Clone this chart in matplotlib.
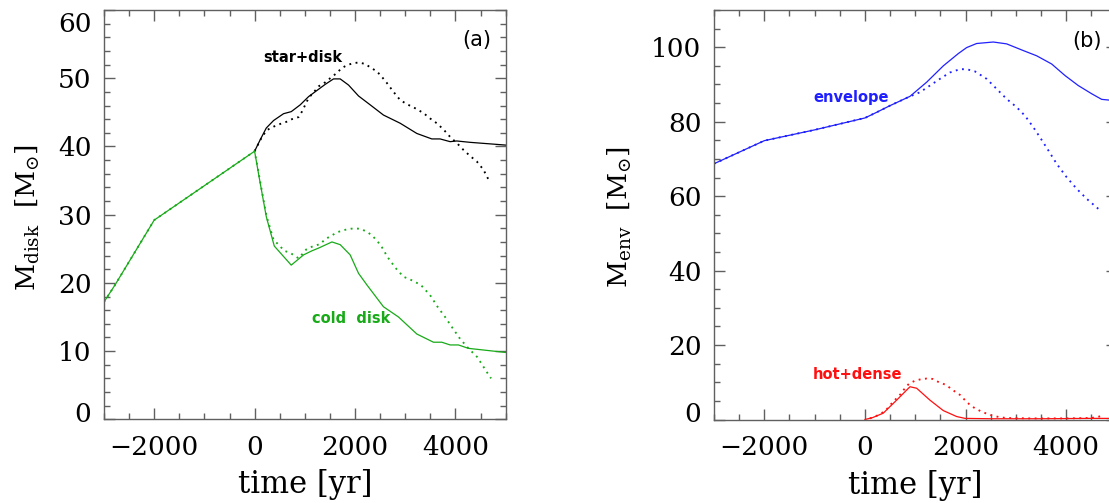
import matplotlib
matplotlib.use("Agg")
import matplotlib.pyplot as plt
from matplotlib.ticker import MultipleLocator
from matplotlib.transforms import ScaledTranslation

# ---------------- data (panel a) ----------------
cold_t = [-3000, -2780, -2000, 0, 100, 233, 392, 730, 975, 1142, 1275, 1540, 1705,
          1904, 2070, 2237, 2567, 2866, 3232, 3563, 3729, 3895, 4060, 4259, 5000]
cold_solid = [17.2, 19.7, 29.2, 39.3, 35.1, 29.7, 25.4, 22.6, 24.1, 24.7, 25.1, 26.0, 25.6,
              24.1, 21.4, 19.7, 16.5, 15.0, 12.5, 11.3, 11.3, 10.9, 10.9, 10.4, 9.8]

cold_dot_t = [-3000, -2780, -2000, 0, 100, 233, 378, 478, 591, 710, 876, 1029, 1142, 1308,
              1407, 1526, 1640, 1759, 1878, 1998, 2117, 2237, 2348, 2515, 2647, 2806,
              2965, 3098, 3311, 3496, 3644, 3795, 3960, 4093, 4259, 4438, 4637, 4710]
cold_dot = [17.2, 19.7, 29.2, 39.3, 35.3, 29.9, 26.3, 25.6, 24.7, 24.4, 23.6, 24.9, 25.3, 25.7,
            26.4, 26.9, 27.4, 27.7, 27.9, 28.0, 27.9, 27.5, 26.9, 25.5, 23.8, 22.2,
            20.9, 20.5, 19.7, 18.2, 16.5, 15.0, 13.2, 11.8, 10.4, 9.1, 6.8, 6.0]

star_t = [0, 113, 233, 378, 577, 730, 909, 1075, 1241, 1407, 1572, 1705, 1871, 2070,
          2302, 2567, 2900, 3232, 3530, 3695, 3895, 4028, 4293, 5000]
star_solid = [39.3, 41.0, 42.7, 43.8, 44.8, 45.1, 46.1, 47.3, 48.2, 49.1, 49.9, 49.9, 49.0, 47.4,
              46.1, 44.6, 43.4, 41.9, 41.1, 41.1, 40.7, 40.8, 40.6, 40.2]

star_dot_t = [0, 147, 246, 378, 511, 631, 744, 876, 943, 1009, 1075, 1174, 1274, 1407, 1506,
              1626, 1739, 1839, 1958, 2070, 2203, 2302, 2436, 2535, 2635, 2767, 2900, 3033,
              3198, 3363, 3496, 3629, 3761, 3895, 4028, 4159, 4293, 4426, 4558, 4690]
star_dot = [39.3, 41.4, 42.4, 42.9, 43.3, 43.6, 44.0, 44.3, 45.1, 46.1, 47.1, 47.9, 48.8, 49.4,
            50.0, 50.7, 51.5, 51.9, 52.2, 52.3, 52.1, 51.6, 51.0, 50.2, 49.3, 48.0, 46.8, 46.2,
            45.6, 44.9, 44.1, 43.4, 42.5, 41.4, 40.5, 39.5, 38.6, 37.8, 36.6, 34.7]

# ---------------- data (panel b) ----------------
env_t = [-3000, -2000, -1000, 0, 230, 497, 895, 1226, 1558, 1856, 2021, 2220, 2551, 2817,
         3148, 3413, 3711, 3976, 4241, 4507, 4705, 5000]
env_solid = [68.7, 74.9, 77.8, 81.0, 82.5, 84.3, 86.8, 90.6, 95.0, 98.3, 99.9, 101.0, 101.4,
             100.9, 99.1, 97.7, 95.5, 92.4, 89.7, 87.5, 86.0, 85.6]

env_dot_t = [-3000, -2000, -1000, 0, 230, 497, 895, 1093, 1292, 1490, 1688, 1887, 2021, 2187,
             2419, 2618, 2817, 3015, 3181, 3347, 3479, 3645, 3810, 4008, 4207, 4406, 4638]
env_dot = [68.7, 74.9, 77.8, 81.0, 82.5, 84.3, 86.8, 87.9, 89.7, 91.5, 93.2, 94.1, 94.1, 93.5,
           91.5, 88.8, 86.1, 83.9, 81.6, 78.5, 75.8, 72.3, 68.7, 65.1, 62.0, 59.3, 56.6]

hot_t = [0, 150, 364, 630, 895, 1028, 1292, 1557, 1822, 1988, 2500, 3500, 4500, 5000]
hot_solid = [0.0, 0.5, 1.7, 5.2, 8.8, 8.4, 5.2, 2.4, 0.8, 0.3, 0.2, 0.2, 0.3, 0.3]

hot_dot_t = [99, 199, 331, 430, 530, 629, 708, 795, 881, 994, 1107, 1226, 1345, 1458, 1590,
             1690, 1789, 1889, 1988, 2074, 2187, 2320, 2452, 2551, 2684, 2816, 3300, 4000,
             4500, 4700]
hot_dot = [0.3, 0.75, 1.7, 2.7, 4.3, 5.7, 6.8, 8.4, 9.7, 10.4, 10.8, 11.0, 10.9, 10.1, 9.4,
           8.5, 7.5, 6.6, 5.2, 4.1, 3.0, 2.1, 1.4, 1.0, 0.6, 0.4, 0.3, 0.3, 0.4, 0.9]

x_ticks = [-2000, 0, 2000, 4000]

# ---------------- styling ----------------
plt.rcParams['font.family'] = ['DejaVu Serif']
plt.rcParams['mathtext.fontset'] = 'dejavuserif'

GREEN = '#18aa18'
BLUE = '#2020ff'
RED = '#ff1010'
FRAME = '#606060'
LW = 0.9
DOT = dict(linestyle=(0, (1, 2.4)), linewidth=1.35)

fig = plt.figure(figsize=(11.09, 5.03), dpi=100)
W, H = 1109.0, 503.0
ax1 = fig.add_axes([104 / W, (H - 419.3) / H, 401.6 / W, 409.3 / H])
ax2 = fig.add_axes([714 / W, (H - 419.5) / H, 402.5 / W, 409.5 / H])


def style(ax, ymajor, yminor):
    ax.set_xlim(-3000, 5000)
    ax.set_xticks(x_ticks)
    ax.xaxis.set_minor_locator(MultipleLocator(500))
    ax.yaxis.set_major_locator(MultipleLocator(ymajor))
    ax.yaxis.set_minor_locator(MultipleLocator(yminor))
    for s in ax.spines.values():
        s.set_color(FRAME)
        s.set_linewidth(1.0)
    ax.tick_params(which='both', direction='in', top=True, right=True, color=FRAME,
                   width=1.0, labelsize=19, labelcolor='black')
    ax.tick_params(which='major', length=8)
    ax.tick_params(which='minor', length=4)
    ax.tick_params(axis='x', which='major', pad=11)
    ax.tick_params(axis='y', which='major', pad=9)
    ax.set_xlabel('time [yr]', fontsize=22)
    ax.xaxis.set_label_coords(0.5, -0.1605)
    ax.xaxis.label.set_va('center')


# ---- panel a ----
ax1.plot(star_t, star_solid, color='black', lw=LW)
ax1.plot(star_dot_t, star_dot, color='black', **DOT)
ax1.plot(cold_dot_t, cold_dot, color=GREEN, **DOT)
ax1.plot(cold_t, cold_solid, color=GREEN, lw=LW)
style(ax1, 10, 2)
ax1.set_ylim(0, 60)
ax1.set_yticks([0, 10, 20, 30, 40, 50, 60])
ax1.set_ylabel(r'$\mathrm{M_{disk}}\ \ [\mathrm{M}_{\odot}]$', fontsize=19, va='center', ha='center')
ax1.yaxis.set_label_coords((27.5 - 104) / 401.6, 0.494)
ax1.text(167, 53.1, 'star+disk', fontsize=10.5, fontweight='bold', family='DejaVu Sans',
         color='black', ha='left', va='center')
ax1.text(1142, 14.8, 'cold  disk', fontsize=10.5, fontweight='bold', family='DejaVu Sans',
         color=GREEN, ha='left', va='center')
ax1.text(4724, 55.6, '(a)', fontsize=15, family='DejaVu Sans', ha='right', va='center')

# ---- panel b ----
ax2.plot(env_t, env_solid, color=BLUE, lw=LW)
ax2.plot(env_dot_t, env_dot, color=BLUE, **DOT)
ax2.plot(hot_t, hot_solid, color=RED, lw=LW)
ax2.plot(hot_dot_t, hot_dot, color=RED, **DOT)
style(ax2, 20, 5)
ax2.set_ylim(0, 110)
ax2.set_yticks([0, 20, 40, 60, 80, 100])
ax2.set_ylabel(r'$\mathrm{M_{env}}\ \ [\mathrm{M}_{\odot}]$', fontsize=19, va='center', ha='center')
ax2.yaxis.set_label_coords((620 - 714) / 402.5, 0.494)
ax2.text(-1030, 86.5, 'envelope', fontsize=10.5, fontweight='bold', family='DejaVu Sans',
         color=BLUE, ha='left', va='center')
ax2.text(-1030, 12.2, 'hot+dense', fontsize=10.5, fontweight='bold', family='DejaVu Sans',
         color=RED, ha='left', va='center')
ax2.text(4704, 101.7, '(b)', fontsize=15, family='DejaVu Sans', ha='right', va='center')

# IDL-like placement of the end labels of the y axes
fig.canvas.draw()


def shift(label, dy_px):
    label.set_transform(label.get_transform() +
                        ScaledTranslation(0, dy_px / 100.0, fig.dpi_scale_trans))


lab1 = ax1.get_yticklabels()
shift(lab1[0], 7.5)
shift(lab1[-1], -11.5)
lab2 = ax2.get_yticklabels()
shift(lab2[0], 7.5)

fig.savefig('out.png', dpi=100)
